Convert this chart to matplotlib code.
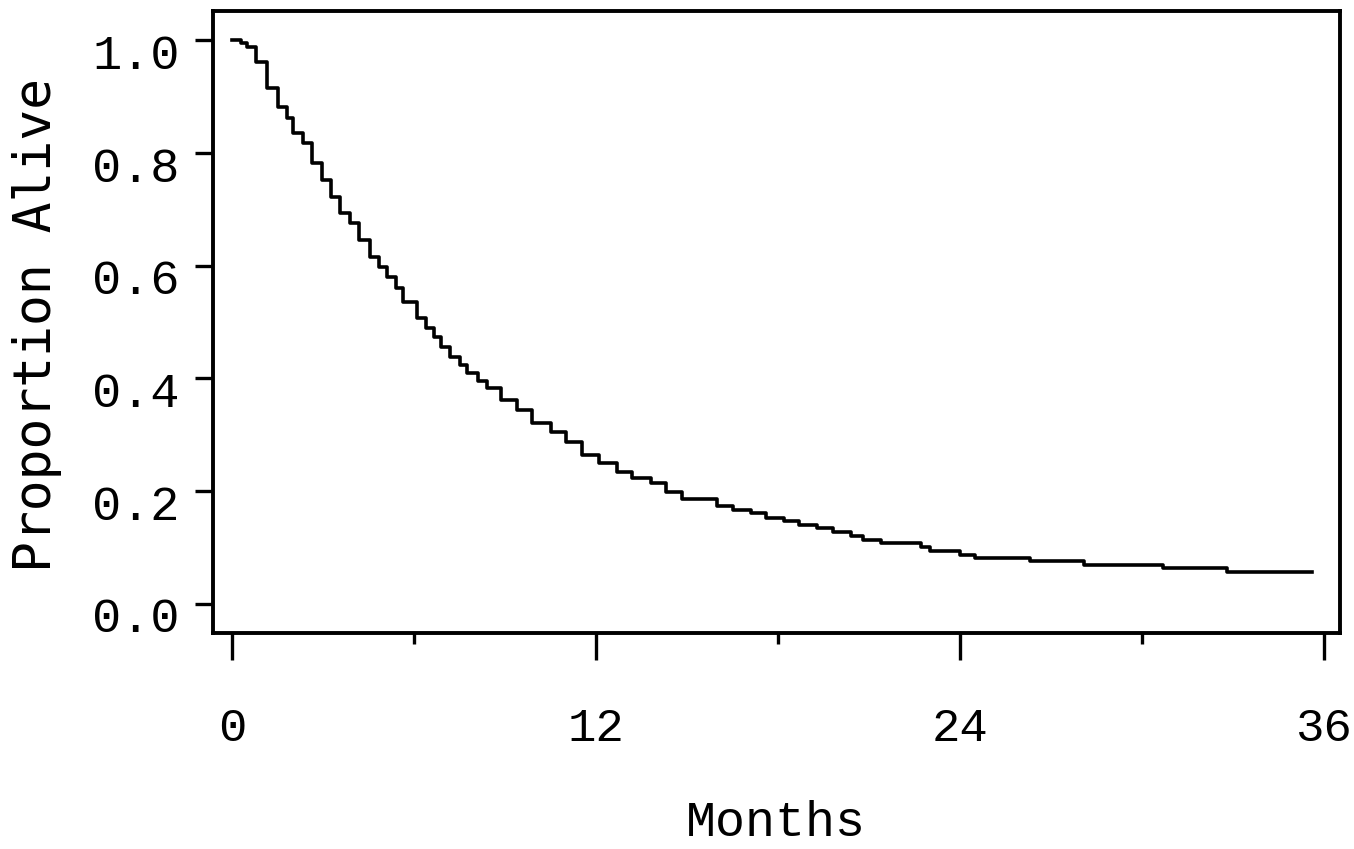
import numpy as np
import matplotlib.pyplot as plt
import matplotlib.transforms as mtransforms

# survival estimate (step function)
months = [0, 0.3, 0.5, 0.8, 1.15, 1.5, 1.8, 2.0, 2.35, 2.65, 2.95, 3.25, 3.55,
          3.9, 4.2, 4.55, 4.85, 5.1, 5.4, 5.65, 6.1, 6.4, 6.65, 6.9, 7.2, 7.5,
          7.75, 8.1, 8.4, 8.85, 9.4, 9.9, 10.5, 11.0, 11.55, 12.1, 12.7, 13.2,
          13.8, 14.3, 14.85, 16.0, 16.5, 17.1, 17.6, 18.2, 18.7, 19.3, 19.8,
          20.4, 20.8, 21.4, 22.7, 23.0, 24.0, 24.5, 26.3, 28.1, 30.7, 32.8, 35.6]
alive = [1.0, 0.995, 0.988, 0.961, 0.915, 0.881, 0.862, 0.835, 0.817, 0.782,
         0.752, 0.722, 0.693, 0.675, 0.645, 0.615, 0.598, 0.58, 0.56, 0.535,
         0.507, 0.49, 0.473, 0.455, 0.438, 0.423, 0.41, 0.395, 0.383, 0.362,
         0.344, 0.321, 0.305, 0.287, 0.264, 0.25, 0.234, 0.223, 0.214, 0.199,
         0.186, 0.174, 0.167, 0.161, 0.152, 0.147, 0.14, 0.135, 0.128, 0.121,
         0.113, 0.108, 0.101, 0.094, 0.087, 0.082, 0.076, 0.069, 0.064, 0.057,
         0.057]

x_major = [0, 12, 24, 36]
x_minor = [6, 18, 30]
y_ticks = [0.0, 0.2, 0.4, 0.6, 0.8, 1.0]

mono = 'Liberation Mono'

fig = plt.figure(figsize=(13.54, 8.49), dpi=100)
ax = fig.add_axes([0.1573, 0.2544, 0.8324, 0.7326])

ax.step(months, alive, where='post', color='black', linewidth=2.6)

ax.set_xlim(-0.63, 36.53)
ax.set_ylim(-0.052, 1.052)

for s in ax.spines.values():
    s.set_linewidth(2.8)

ax.set_xticks(x_major)
ax.set_xticks(x_minor, minor=True)
ax.set_xticklabels([str(v) for v in x_major], fontfamily=mono, fontsize=34)
ax.tick_params(axis='x', which='major', length=19.5, width=2.4, pad=34)
ax.tick_params(axis='x', which='minor', length=8, width=2.4)

ax.set_yticks(y_ticks)
ax.set_yticklabels(['%.1f' % v for v in y_ticks], fontfamily=mono, fontsize=35)
ax.tick_params(axis='y', which='major', length=13, width=2.4, pad=11)

# y labels sit a little below their ticks in the original
shift = mtransforms.ScaledTranslation(0, -0.11, fig.dpi_scale_trans)
for lbl in ax.get_yticklabels():
    lbl.set_transform(lbl.get_transform() + shift)

fig.text(0.573, 0.004, 'Months', fontfamily=mono, fontsize=36,
         ha='center', va='bottom')
fig.text(0.027, 0.617, 'Proportion Alive', fontfamily='DejaVu Sans Mono',
         fontsize=37, rotation=90, ha='center', va='center')

fig.savefig('out.png', dpi=100)
